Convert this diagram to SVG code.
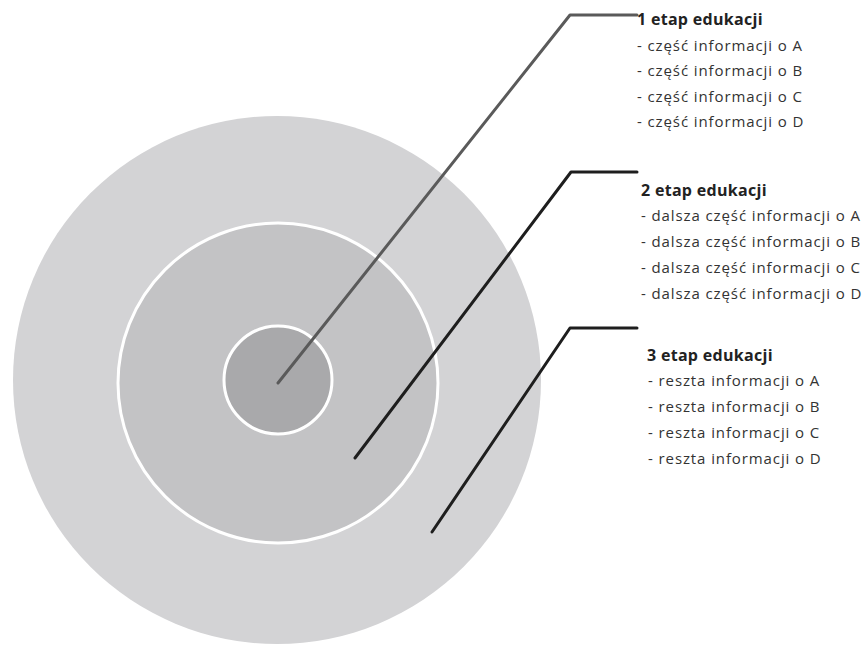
<svg xmlns="http://www.w3.org/2000/svg" width="868" height="646" viewBox="0 0 868 646">
<style>
.t{font-family:"Open Sans","Noto Sans",sans-serif;font-size:15px;letter-spacing:0.9px;fill:#333}
.h{font-family:"Open Sans","Noto Sans",sans-serif;font-size:16px;letter-spacing:0.3px;font-weight:bold;fill:#222}
.c{fill:none;stroke-width:3;stroke-linejoin:round;stroke-linecap:round}
</style>
<rect width="868" height="646" fill="#fff"/>
<g id="ring3"><circle cx="277" cy="380" r="264" fill="#d3d3d5"/></g>
<g id="ring2"><circle cx="278" cy="383" r="160" fill="#c3c3c5" stroke="#fff" stroke-width="3"/></g>
<g id="ring1"><circle cx="278" cy="380" r="54" fill="#a9a9ab" stroke="#fff" stroke-width="3"/></g>
<g id="connectors">
<polyline class="c" points="278,383 570,15 637,15" stroke="#5a5a5a"/>
<polyline class="c" points="355,458 571,172 637,172" stroke="#1e1e1e"/>
<polyline class="c" points="432,532 570,328 637,328" stroke="#1e1e1e"/>
</g>
<g id="label1">
<text class="h" x="637" y="25">1 etap edukacji</text>
<text class="t" x="637" y="51">- część informacji o A</text>
<text class="t" x="637" y="76">- część informacji o B</text>
<text class="t" x="637" y="102">- część informacji o C</text>
<text class="t" x="637" y="127">- część informacji o D</text>
</g>
<g id="label2">
<text class="h" x="641" y="196">2 etap edukacji</text>
<text class="t" x="641" y="221">- dalsza część informacji o A</text>
<text class="t" x="641" y="247">- dalsza część informacji o B</text>
<text class="t" x="641" y="273">- dalsza część informacji o C</text>
<text class="t" x="641" y="299">- dalsza część informacji o D</text>
</g>
<g id="label3">
<text class="h" x="647" y="361">3 etap edukacji</text>
<text class="t" x="648" y="386">- reszta informacji o A</text>
<text class="t" x="648" y="412">- reszta informacji o B</text>
<text class="t" x="648" y="438">- reszta informacji o C</text>
<text class="t" x="648" y="464">- reszta informacji o D</text>
</g>
</svg>
